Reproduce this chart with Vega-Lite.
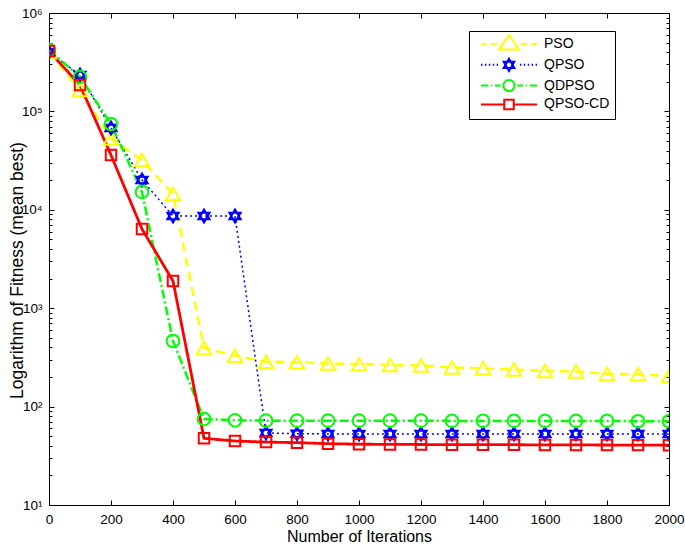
{
  "$schema": "https://vega.github.io/schema/vega-lite/v6.json",
  "width": 620,
  "height": 492,
  "autosize": "none",
  "padding": {"left": 49, "top": 13, "right": 16, "bottom": 40},
  "background": "white",
  "config": {
    "font": "Liberation Sans",
    "view": {"stroke": "black", "strokeWidth": 1},
    "axis": {
      "domain": false,
      "grid": false,
      "labelFont": "Liberation Sans",
      "labelFontSize": 13.5,
      "labelColor": "black",
      "tickColor": "black",
      "tickWidth": 1,
      "titleFont": "Liberation Sans",
      "titleFontSize": 16,
      "titleFontWeight": "normal",
      "titleColor": "black"
    }
  },
  "data": {
    "values": [
      {"alg": "PSO", "iter": 0, "val": 400000},
      {"alg": "PSO", "iter": 100, "val": 165000},
      {"alg": "PSO", "iter": 200, "val": 53000},
      {"alg": "PSO", "iter": 300, "val": 32000},
      {"alg": "PSO", "iter": 400, "val": 14500},
      {"alg": "PSO", "iter": 500, "val": 395},
      {"alg": "PSO", "iter": 600, "val": 329},
      {"alg": "PSO", "iter": 700, "val": 286},
      {"alg": "PSO", "iter": 800, "val": 282},
      {"alg": "PSO", "iter": 900, "val": 274},
      {"alg": "PSO", "iter": 1000, "val": 270},
      {"alg": "PSO", "iter": 1100, "val": 265},
      {"alg": "PSO", "iter": 1200, "val": 262},
      {"alg": "PSO", "iter": 1300, "val": 250},
      {"alg": "PSO", "iter": 1400, "val": 245},
      {"alg": "PSO", "iter": 1500, "val": 238},
      {"alg": "PSO", "iter": 1600, "val": 230},
      {"alg": "PSO", "iter": 1700, "val": 228},
      {"alg": "PSO", "iter": 1800, "val": 215},
      {"alg": "PSO", "iter": 1900, "val": 213},
      {"alg": "PSO", "iter": 2000, "val": 205},
      {"alg": "QPSO", "iter": 0, "val": 400000},
      {"alg": "QPSO", "iter": 100, "val": 234000},
      {"alg": "QPSO", "iter": 200, "val": 67800},
      {"alg": "QPSO", "iter": 300, "val": 20100},
      {"alg": "QPSO", "iter": 400, "val": 8650},
      {"alg": "QPSO", "iter": 500, "val": 8650},
      {"alg": "QPSO", "iter": 600, "val": 8650},
      {"alg": "QPSO", "iter": 700, "val": 54},
      {"alg": "QPSO", "iter": 800, "val": 53},
      {"alg": "QPSO", "iter": 900, "val": 52.8},
      {"alg": "QPSO", "iter": 1000, "val": 52.8},
      {"alg": "QPSO", "iter": 1100, "val": 52.8},
      {"alg": "QPSO", "iter": 1200, "val": 52.8},
      {"alg": "QPSO", "iter": 1300, "val": 52.8},
      {"alg": "QPSO", "iter": 1400, "val": 52.8},
      {"alg": "QPSO", "iter": 1500, "val": 52.8},
      {"alg": "QPSO", "iter": 1600, "val": 52.8},
      {"alg": "QPSO", "iter": 1700, "val": 52.8},
      {"alg": "QPSO", "iter": 1800, "val": 52.8},
      {"alg": "QPSO", "iter": 1900, "val": 52.8},
      {"alg": "QPSO", "iter": 2000, "val": 52.8},
      {"alg": "QDPSO", "iter": 0, "val": 420000},
      {"alg": "QDPSO", "iter": 100, "val": 224000},
      {"alg": "QDPSO", "iter": 200, "val": 74500},
      {"alg": "QDPSO", "iter": 300, "val": 15200},
      {"alg": "QDPSO", "iter": 400, "val": 464},
      {"alg": "QDPSO", "iter": 500, "val": 74.8},
      {"alg": "QDPSO", "iter": 600, "val": 72.5},
      {"alg": "QDPSO", "iter": 700, "val": 72},
      {"alg": "QDPSO", "iter": 800, "val": 72},
      {"alg": "QDPSO", "iter": 900, "val": 72},
      {"alg": "QDPSO", "iter": 1000, "val": 72},
      {"alg": "QDPSO", "iter": 1100, "val": 72},
      {"alg": "QDPSO", "iter": 1200, "val": 72},
      {"alg": "QDPSO", "iter": 1300, "val": 71.5},
      {"alg": "QDPSO", "iter": 1400, "val": 71.5},
      {"alg": "QDPSO", "iter": 1500, "val": 71.5},
      {"alg": "QDPSO", "iter": 1600, "val": 71.5},
      {"alg": "QDPSO", "iter": 1700, "val": 71.5},
      {"alg": "QDPSO", "iter": 1800, "val": 71.5},
      {"alg": "QDPSO", "iter": 1900, "val": 71},
      {"alg": "QDPSO", "iter": 2000, "val": 71},
      {"alg": "QPSO-CD", "iter": 0, "val": 410000},
      {"alg": "QPSO-CD", "iter": 100, "val": 185000},
      {"alg": "QPSO-CD", "iter": 200, "val": 36000},
      {"alg": "QPSO-CD", "iter": 300, "val": 6380},
      {"alg": "QPSO-CD", "iter": 400, "val": 1890},
      {"alg": "QPSO-CD", "iter": 500, "val": 47.6},
      {"alg": "QPSO-CD", "iter": 600, "val": 44.7},
      {"alg": "QPSO-CD", "iter": 700, "val": 43.6},
      {"alg": "QPSO-CD", "iter": 800, "val": 43},
      {"alg": "QPSO-CD", "iter": 900, "val": 42},
      {"alg": "QPSO-CD", "iter": 1000, "val": 41.5},
      {"alg": "QPSO-CD", "iter": 1100, "val": 41.3},
      {"alg": "QPSO-CD", "iter": 1200, "val": 41.2},
      {"alg": "QPSO-CD", "iter": 1300, "val": 41},
      {"alg": "QPSO-CD", "iter": 1400, "val": 41},
      {"alg": "QPSO-CD", "iter": 1500, "val": 41},
      {"alg": "QPSO-CD", "iter": 1600, "val": 40.8},
      {"alg": "QPSO-CD", "iter": 1700, "val": 40.8},
      {"alg": "QPSO-CD", "iter": 1800, "val": 40.7},
      {"alg": "QPSO-CD", "iter": 1900, "val": 40.6},
      {"alg": "QPSO-CD", "iter": 2000, "val": 40.5}
    ]
  },
  "layer": [
    {
      "mark": {"type": "line", "clip": true},
      "encoding": {
        "x": {
          "field": "iter", "type": "quantitative",
          "scale": {"domain": [0, 2000], "nice": false, "zero": false},
          "axis": {
            "orient": "bottom",
            "values": [0, 200, 400, 600, 800, 1000, 1200, 1400, 1600, 1800, 2000],
            "format": "d",
            "tickSize": -5,
            "labelPadding": 12,
            "labelBaseline": "top",
            "labelFlush": false,
            "title": "Number of Iterations",
            "titleX": 310,
            "titleY": 36,
            "titleBaseline": "alphabetic",
            "titleAnchor": "middle"
          }
        },
        "y": {
          "field": "val", "type": "quantitative",
          "scale": {"type": "log", "domain": [10, 1000000], "nice": false},
          "axis": {
            "orient": "left",
            "values": [10,20,30,40,50,60,70,80,90,100,200,300,400,500,600,700,800,900,1000,2000,3000,4000,5000,6000,7000,8000,9000,10000,20000,30000,40000,50000,60000,70000,80000,90000,100000,200000,300000,400000,500000,600000,700000,800000,900000,1000000],
            "labelExpr": "abs(log(datum.value)/LN10 - round(log(datum.value)/LN10)) < 0.001 ? '10' + ['⁰','¹','²','³','⁴','⁵','⁶'][round(log(datum.value)/LN10)] : ''",
            "tickSize": {"condition": {"test": "abs(log(datum.value)/LN10 - round(log(datum.value)/LN10)) < 0.001", "value": -5}, "value": -3},
            "labelPadding": 12,
            "labelFlush": false,
            "labelBaseline": "middle",
            "title": "Logarithm of Fitness (mean best)",
            "titleFontSize": 17.5,
            "titleAngle": 270,
            "titleX": -27,
            "titleY": 257,
            "titleAlign": "center",
            "titleBaseline": "alphabetic"
          }
        },
        "color": {
          "field": "alg", "type": "nominal",
          "scale": {"domain": ["PSO", "QPSO", "QDPSO", "QPSO-CD"], "range": ["#ffff00", "#0000ff", "#00ff00", "#ff0000"]},
          "legend": null
        },
        "strokeDash": {
          "field": "alg", "type": "nominal",
          "scale": {"domain": ["PSO", "QPSO", "QDPSO", "QPSO-CD"], "range": [[9, 6], [2, 3], [9, 3, 2, 3], [1, 0]]},
          "legend": null
        },
        "strokeWidth": {
          "field": "alg", "type": "nominal",
          "scale": {"type": "ordinal", "domain": ["PSO", "QPSO", "QDPSO", "QPSO-CD"], "range": [2.5, 1.5, 2.5, 2.8]},
          "legend": null
        }
      }
    },
    {
      "mark": {"type": "point", "filled": false, "strokeWidth": 2, "opacity": 1, "clip": true},
      "encoding": {
        "x": {
          "field": "iter", "type": "quantitative",
          "axis": {
            "orient": "top",
            "values": [0, 200, 400, 600, 800, 1000, 1200, 1400, 1600, 1800, 2000],
            "labels": false,
            "tickSize": -5,
            "title": null
          }
        },
        "y": {
          "field": "val", "type": "quantitative",
          "axis": {
            "orient": "right",
            "values": [10,20,30,40,50,60,70,80,90,100,200,300,400,500,600,700,800,900,1000,2000,3000,4000,5000,6000,7000,8000,9000,10000,20000,30000,40000,50000,60000,70000,80000,90000,100000,200000,300000,400000,500000,600000,700000,800000,900000,1000000],
            "labels": false,
            "tickSize": {"condition": {"test": "abs(log(datum.value)/LN10 - round(log(datum.value)/LN10)) < 0.001", "value": -5}, "value": -3},
            "title": null
          }
        },
        "stroke": {
          "field": "alg", "type": "nominal",
          "scale": {"domain": ["PSO", "QPSO", "QDPSO", "QPSO-CD"], "range": ["#ffff00", "#0000ff", "#00ff00", "#ff0000"]},
          "legend": null
        },
        "shape": {
          "field": "alg", "type": "nominal",
          "scale": {"domain": ["PSO", "QPSO", "QDPSO", "QPSO-CD"], "range": ["triangle-up", "M0,-1L0.866,0.5L-0.866,0.5ZM0,1L0.866,-0.5L-0.866,-0.5Z", "circle", "square"]},
          "legend": null
        },
        "size": {
          "field": "alg", "type": "nominal",
          "scale": {"type": "ordinal", "domain": ["PSO", "QPSO", "QDPSO", "QPSO-CD"], "range": [210, 170, 160, 110]},
          "legend": null
        }
      }
    },
    {
      "transform": [{"filter": "datum.iter < 0"}],
      "mark": {"type": "point", "filled": false, "strokeWidth": 2, "opacity": 1, "size": 196},
      "encoding": {
        "color": {
          "field": "alg", "type": "nominal",
          "scale": {"domain": ["PSO", "QPSO", "QDPSO", "QPSO-CD"], "range": ["#ffff00", "#0000ff", "#00ff00", "#ff0000"]},
          "legend": {
            "orient": "none",
            "legendX": 420,
            "legendY": 18,
            "title": null,
            "strokeColor": "black",
            "fillColor": "white",
            "padding": 5,
            "symbolSize": 196,
            "symbolStrokeWidth": 2,
            "symbolOffset": 27,
            "labelOffset": 27,
            "rowPadding": -0.2,
            "labelFont": "Liberation Sans",
            "labelFontSize": 14,
            "labelColor": "black",
            "labelExpr": "datum.label + '\u00a0\u00a0\u00a0\u00a0\u00a0\u00a0\u00a0\u00a0\u00a0\u00a0\u00a0\u00a0\u00a0'"
          }
        },
        "shape": {
          "field": "alg", "type": "nominal",
          "scale": {"domain": ["PSO", "QPSO", "QDPSO", "QPSO-CD"], "range": [
            "M-4,0H-3.2M-2.56,0H-1.72M1.72,0H2.56M3.2,0H4M0,-1.28L1.44,0.8L-1.44,0.8Z",
            "M-4,0H-3.8M-3.44,0H-3.24M-2.88,0H-2.68M-2.32,0H-2.12M-1.76,0H-1.56M1.56,0H1.76M2.12,0H2.32M2.68,0H2.88M3.24,0H3.44M3.8,0H4M0,-0.88L0.76,0.44L-0.76,0.44ZM0,0.88L0.76,-0.44L-0.76,-0.44Z",
            "M-4,0H-2.96M-2.56,0H-2.4M-2,0H-1.2M1.2,0H2M2.4,0H2.56M2.96,0H4M0.8,0A0.8,0.8 0 1,1 -0.8,0A0.8,0.8 0 1,1 0.8,0Z",
            "M-4,0H-0.68M0.68,0H4M-0.68,-0.68H0.68V0.68H-0.68Z"
          ]},
          "legend": {
            "orient": "none",
            "legendX": 420,
            "legendY": 18,
            "title": null,
            "strokeColor": "black",
            "fillColor": "white",
            "padding": 5,
            "symbolSize": 196,
            "symbolStrokeWidth": 2,
            "symbolOffset": 27,
            "labelOffset": 27,
            "rowPadding": -0.2,
            "labelFont": "Liberation Sans",
            "labelFontSize": 14,
            "labelColor": "black",
            "labelExpr": "datum.label + '\u00a0\u00a0\u00a0\u00a0\u00a0\u00a0\u00a0\u00a0\u00a0\u00a0\u00a0\u00a0\u00a0'"
          }
        }
      }
    }
  ],
  "resolve": {
    "axis": {"x": "independent", "y": "independent"},
    "scale": {"color": "independent", "shape": "independent"}
  }
}
